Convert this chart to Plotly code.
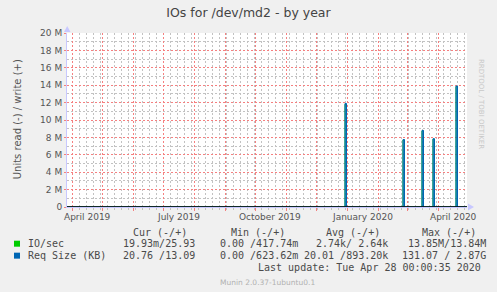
import plotly.graph_objects as go
import pandas as pd

# ---------------- data ----------------
title = "IOs for /dev/md2 - by year"
x_start, x_end = "2019-03-27", "2020-04-30"
spike_dates = ["2019-12-30", "2020-02-26", "2020-03-16", "2020-03-27", "2020-04-19"]
io_values = [11.8e6, 7.7e6, 8.75e6, 7.8e6, 13.85e6]      # IO/sec
req_values = [11.9e6, 7.75e6, 8.8e6, 7.85e6, 13.9e6]     # Req Size (KB)
y_ticks = [0, 2e6, 4e6, 6e6, 8e6, 10e6, 12e6, 14e6, 16e6, 18e6, 20e6]
x_label_dates = ["2019-04-16", "2019-07-16", "2019-10-16", "2020-01-16", "2020-04-16"]
x_label_texts = ["April 2019", "July 2019", "October 2019", "January 2020", "April 2020"]

legend_names = ["IO/sec", "Req Size (KB)"]
legend_colors = ["#00cc00", "#0066b3"]
col_headers = ["Cur (-/+)", "Min (-/+)", "Avg (-/+)", "Max (-/+)"]
col_rows = [
    ["19.93m/25.93", "0.00 /417.74m", "2.74k/ 2.64k", "13.85M/13.84M"],
    ["20.76 /13.09", "0.00 /623.62m", "20.01 /893.20k", "131.07 / 2.87G"],
]
last_update = "Last update: Tue Apr 28 00:00:35 2020"
footer = "Munin 2.0.37-1ubuntu0.1"
watermark = "RRDTOOL / TOBI OETIKER"


def pulse_series(dates, values):
    xs, ys = [pd.Timestamp(x_start)], [0]
    for d, v in zip(dates, values):
        t = pd.Timestamp(d)
        t2 = t + pd.Timedelta(hours=36)
        xs += [t, t, t2, t2]
        ys += [0, v, v, 0]
    xs.append(pd.Timestamp(x_end))
    ys.append(0)
    return xs, ys


# ---------------- layout geometry ----------------
W_FIG, H_FIG = 497, 292
L, R, T, B = 67, 30, 33, 84.5
PW = W_FIG - L - R
PH = H_FIG - T - B


def px(x):
    return (x - L) / PW


def py(y):
    return (T + PH - y) / PH


fig = go.Figure()

gx, gy = pulse_series(spike_dates, io_values)
fig.add_trace(go.Scatter(x=gx, y=gy, mode="lines",
                         line=dict(color=legend_colors[0], width=1),
                         hoverinfo="skip", showlegend=False))
bx, by = pulse_series(spike_dates, req_values)
fig.add_trace(go.Scatter(x=bx, y=by, mode="lines", fill="tozeroy",
                         fillcolor="rgba(0,102,179,0.55)",
                         line=dict(color=legend_colors[1], width=1),
                         hoverinfo="skip", showlegend=False))

fig.add_hline(y=0, line=dict(color="black", width=1.5), layer="above")

MGRID = "#f58080"
GRID = "#c2c2c2"
AXIS = "rgb(200,200,255)"
DASH = "2px,2px"

fig.update_xaxes(
    type="date", range=[x_start, x_end],
    showticklabels=False,
    dtick="M1", tick0="2019-04-01",
    showgrid=True, gridcolor=MGRID, griddash=DASH, gridwidth=1,
    ticks="outside", ticklen=3, tickcolor=MGRID,
    minor=dict(dtick=7 * 86400000, tick0="2019-04-01", showgrid=True,
               gridcolor=GRID, griddash=DASH, gridwidth=1, ticks="outside",
               ticklen=2, tickcolor=GRID),
    showline=True, linecolor=AXIS, linewidth=1,
    zeroline=False, fixedrange=True,
)
fig.update_yaxes(
    range=[0, 20e6],
    tickvals=y_ticks,
    ticktext=[("%g M" % (v / 1e6)) if v else "0" for v in y_ticks],
    tickfont=dict(family="DejaVu Sans", size=9, color="#555555"),
    showgrid=True, gridcolor=MGRID, griddash=DASH, gridwidth=1,
    ticks="outside", ticklen=2, tickcolor=MGRID,
    minor=dict(tickvals=[v + 1e6 for v in y_ticks[:-1]], showgrid=True,
               gridcolor=GRID, griddash=DASH, gridwidth=1),
    showline=True, linecolor=AXIS, linewidth=1,
    zeroline=False, fixedrange=True,
)

ann = []
# x labels (centered on month)
for d, t in zip(x_label_dates, x_label_texts):
    ann.append(dict(x=d, xref="x", y=0, yref="paper", yanchor="top", yshift=-3,
                    text=t, showarrow=False,
                    font=dict(family="DejaVu Sans", size=9, color="#555555")))
# y title
ann.append(dict(x=px(10), y=py(120), xref="paper", yref="paper",
                text="Units read (-) / write (+)", textangle=-90, showarrow=False,
                font=dict(family="DejaVu Sans", size=10, color="#555555")))
# watermark
ann.append(dict(x=px(487), y=py(57), xref="paper", yref="paper",
                text=watermark, textangle=90, showarrow=False,
                font=dict(family="DejaVu Sans", size=7, color="#c8c8c8")))

MONO = dict(family="DejaVu Sans Mono", size=10, color="#4a4a4a")
header_x = [160, 258, 353, 449]
col_right = [197, 300, 390, 488]
for h, x in zip(col_headers, header_x):
    ann.append(dict(x=px(x), y=py(232.7), xref="paper", yref="paper",
                    text=h.replace(" ", "&nbsp;"), showarrow=False,
                    xanchor="center", yanchor="middle", font=MONO))
row_y = [244.3, 256.3]
for i, (name, color) in enumerate(zip(legend_names, legend_colors)):
    yy = row_y[i]
    ann.append(dict(x=px(26), y=py(yy), xref="paper", yref="paper",
                    text=name.replace(" ", "&nbsp;"), showarrow=False,
                    xanchor="left", yanchor="middle", font=MONO))
    for txt, xr in zip(col_rows[i], col_right):
        ann.append(dict(x=px(xr), y=py(yy), xref="paper", yref="paper",
                        text=txt.replace(" ", "&nbsp;"), showarrow=False,
                        xanchor="right", yanchor="middle", font=MONO))
    fig.add_shape(type="rect", xref="paper", yref="paper",
                  x0=px(14), x1=px(20), y0=py(yy + 3), y1=py(yy - 3),
                  fillcolor=color, line=dict(width=0))
ann.append(dict(x=px(483), y=py(268.5), xref="paper", yref="paper",
                text=last_update.replace(" ", "&nbsp;"), showarrow=False,
                xanchor="right", yanchor="middle", font=MONO))
ann.append(dict(x=0.5, y=py(283), xref="paper", yref="paper",
                text=footer, showarrow=False, xanchor="center", yanchor="middle",
                font=dict(family="DejaVu Sans", size=7.5, color="#b0b0b0")))
fig.update_layout(annotations=ann)

# axis arrows
fig.add_shape(type="path", xref="paper", yref="paper",
              path="M %f %f L %f %f L %f %f Z" % (px(468), py(204), px(468), py(211), px(474), py(207.5)),
              fillcolor=AXIS, line=dict(width=0))
fig.add_shape(type="path", xref="paper", yref="paper",
              path="M %f %f L %f %f L %f %f Z" % (px(64), py(32), px(70.5), py(32), px(67.2), py(26)),
              fillcolor=AXIS, line=dict(width=0))

fig.update_layout(
    width=W_FIG, height=H_FIG,
    margin=dict(l=L, r=R, t=T, b=B),
    paper_bgcolor="#f0f0f0", plot_bgcolor="white",
    title=dict(text=title, x=0.5, xanchor="center", y=1 - 13 / H_FIG, yanchor="middle",
               yref="container",
               font=dict(family="DejaVu Sans", size=12.5, color="#444444")),
    showlegend=False,
)

fig.write_html("out.html", config={"displayModeBar": False})
